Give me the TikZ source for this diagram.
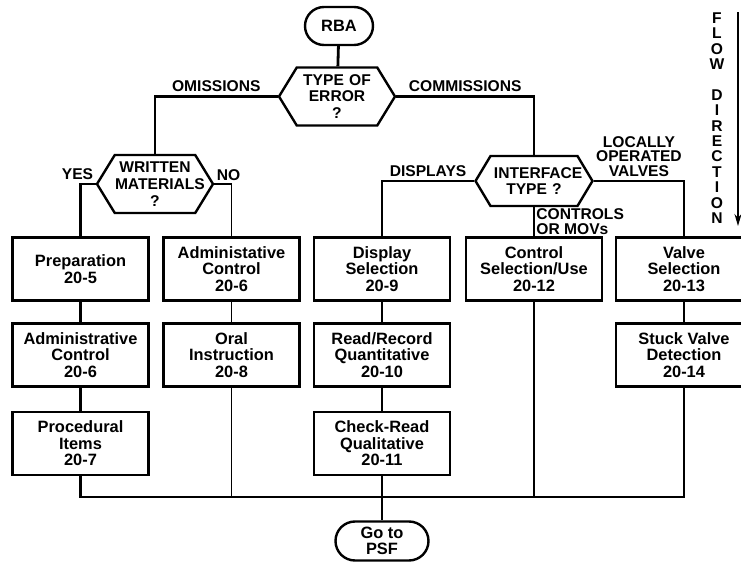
\documentclass[tikz,border=0pt]{standalone}
\usepackage{fontspec}
\setmainfont{Liberation Sans}
\usetikzlibrary{shapes.misc,shapes.symbols,arrows.meta}

\newcommand\boxfont{\fontsize{8.2}{8.3}\selectfont\bfseries}
\newcommand\labfont{\fontsize{7.8}{8.4}\selectfont\bfseries}
\newcommand\smallfont{\fontsize{7.8}{7.3}\selectfont\bfseries}

\tikzset{
  box/.style={draw, line width=1.2pt, minimum width=68pt, minimum height=31.5pt,
    align=center, inner sep=1pt, font=\boxfont},
  hexa/.style={draw, line width=1.2pt, signal, signal to=east and west,
    signal pointer angle=117, minimum width=58pt, minimum height=29pt,
    text width=40pt, align=center, inner sep=0pt, font=\labfont},
  term/.style={draw, line width=1.2pt, rounded rectangle, minimum width=36pt,
    minimum height=19pt, align=center, inner sep=1pt, font=\boxfont},
  link/.style={line width=1.4pt},
  weak/.style={line width=0.8pt},
  lbl/.style={font=\labfont, align=center, inner sep=1.5pt},
}

\begin{document}
\begin{tikzpicture}[x=0.5pt, y=-0.5pt, line join=miter]
\useasboundingbox (0,0) rectangle (741,562);

% Start and decisions
\node[term] (rba) at (339,26) {RBA};
\node[hexa] (err) at (337,96.5) {TYPE OF\\ERROR\\?};
\node[hexa] (wm) at (155,184) {WRITTEN\\MATERIALS\\?};
\node[hexa, minimum height=25pt, minimum width=58.5pt, signal pointer angle=118] (itype) at (534,181) {INTERFACE\\TYPE ?};

% Omissions column boxes
\node[box] (prep) at (80.5,269) {Preparation\\20-5};
\node[box] (adma) at (80.5,355) {Administrative\\Control\\20-6};
\node[box] (proc) at (80.5,443.5) {Procedural\\Items\\20-7};
\node[box] (admb) at (231.5,269) {Administative\\Control\\20-6};
\node[box] (oral) at (231.5,355) {Oral\\Instruction\\20-8};

% Commissions column boxes
\node[box] (disp) at (382,269) {Display\\Selection\\20-9};
\node[box] (read) at (382,355) {Read/Record\\Quantitative\\20-10};
\node[box] (check) at (382,443.5) {Check-Read\\Qualitative\\20-11};
\node[box] (ctrl) at (534,269) {Control\\Selection/Use\\20-12};
\node[box] (valve) at (684,269) {Valve\\Selection\\20-13};
\node[box] (stuck) at (684,355) {Stuck Valve\\Detection\\20-14};

% End
\node[term, minimum width=48.5pt, minimum height=19.5pt] (go) at (382,541) {Go to\\PSF};

% Branches
\draw[link] (rba) -- (err);
\draw[link] (err.west) -| node[lbl, pos=0.25, above] (omit) {OMISSIONS} (wm.north);
\draw[link] (err.east) -| node[lbl, pos=0.25, above] (comm) {COMMISSIONS} (itype.north);
\draw[link] (wm.west) -| node[lbl, pos=0.5, above, xshift=-1.5pt] (yes) {YES} (prep.north);
\draw[weak] (wm.east) -| node[lbl, pos=0.5, above, xshift=-1.5pt] (no) {NO} (admb.north);
\draw[link] (itype.west) -| node[lbl, pos=0.25, above] (displ) {DISPLAYS} (disp.north);
\draw[link] (itype.east) -| node[lbl, pos=0.25, above, font=\smallfont] (loc) {LOCALLY\\OPERATED\\VALVES} (valve.north);
\draw[link] (itype.south) -- node[lbl, right, align=left, inner sep=0.5pt, font=\smallfont] (movs) {CONTROLS\\OR MOVs} (ctrl.north);

% Chains
\draw[link] (prep) -- (adma) -- (proc);
\draw[weak] (admb) -- (oral);
\draw[link] (disp) -- (read) -- (check);
\draw[link] (valve) -- (stuck);

% Merge into PSF
\coordinate (bus) at (382,497);
\draw[link] (proc.south) |- (bus) -| (stuck.south);
\draw[weak] (oral.south) -- (oral.south |- bus);
\draw[link] (check.south) -- (bus);
\draw[link] (ctrl.south) -- (ctrl.south |- bus);
\draw[weak] (bus) -- (go.north);

% Flow direction
\node[font=\fontsize{7.8}{7.7}\selectfont\bfseries, align=center, inner sep=0pt] (flow) at (717,118)
  {F\\L\\O\\W\\[7.7pt]D\\I\\R\\E\\C\\T\\I\\O\\N};
\coordinate (ftop) at (738,12);
\coordinate (fbot) at (738,226);
\draw[weak, -{Stealth[length=6pt,width=3.5pt]}] (ftop) -- (fbot);

\end{tikzpicture}
\end{document}
